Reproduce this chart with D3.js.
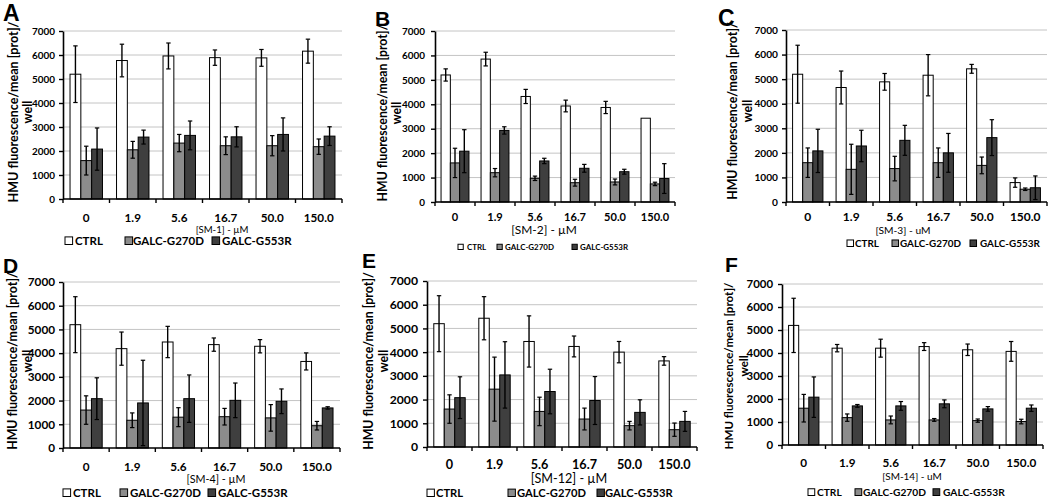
<!DOCTYPE html>
<html><head><meta charset="utf-8">
<script src="https://cdn.jsdelivr.net/npm/d3@7"></script>
<style>body{margin:0;background:#fff} svg{display:block}</style>
</head><body><svg id="c" width="1050" height="501"></svg>
<script>
// ---------- data ----------
const categories = ["0","1.9","5.6","16.7","50.0","150.0"];
const seriesNames = ["CTRL","GALC-G270D","GALC-G553R"];
const yTicks = [0,1000,2000,3000,4000,5000,6000,7000];
const panelLetters = ["A","B","C","D","E","F"];
const xTitles = ["[SM-1] - µM","[SM-2] - µM","[SM-3] - uM","[SM-4] - µM","[SM-12] - µM","[SM-14] - uM"];
const yTitleLines = ["HMU fluorescence/mean [prot]/","well"];

// means: [CTRL, GALC-G270D, GALC-G553R] per concentration
const sm1Mean = [[5200,5770,5960,5890,5880,6160],[1600,2050,2330,2220,2220,2180],[2080,2580,2650,2590,2690,2620]];
const sm1Err  = [[1180,680,540,320,350,500],[600,350,360,370,420,320],[880,290,600,420,690,390]];
const sm2Mean = [[5200,5850,4320,3930,3870,3430],[1600,1200,970,790,820,740],[2080,2930,1680,1380,1240,960]];
const sm2Err  = [[250,280,290,240,250,0],[600,170,90,140,120,70],[880,150,110,160,100,610]];
const sm3Mean = [[5200,4660,4890,5160,5420,790],[1600,1330,1360,1600,1490,520],[2080,2280,2510,2000,2620,580]];
const sm3Err  = [[1180,670,340,840,180,190],[600,1020,500,600,340,50],[880,640,610,790,730,480]];
const sm4Mean = [[5200,4190,4470,4360,4290,3650],[1600,1170,1300,1320,1270,940],[2080,1900,2080,2010,1970,1690]];
const sm4Err  = [[1180,700,660,280,280,360],[600,310,400,350,560,180],[880,1800,1000,730,520,50]];
const sm12Mean = [[5200,5430,4450,4240,4000,3630],[1600,2440,1500,1180,900,730],[2080,3040,2340,1960,1460,1080]];
const sm12Err  = [[1180,910,1080,440,450,180],[600,1350,600,460,180,280],[880,1400,940,1010,530,420]];
const sm14Mean = [[5200,4210,4210,4280,4140,4070],[1600,1190,1090,1090,1060,1020],[2080,1700,1700,1790,1570,1600]];
const sm14Err  = [[1180,160,390,170,250,430],[600,160,170,60,70,100],[880,60,190,170,100,140]];

const panelMeans = [sm1Mean, sm2Mean, sm3Mean, sm4Mean, sm12Mean, sm14Mean];
const panelErrs  = [sm1Err, sm2Err, sm3Err, sm4Err, sm12Err, sm14Err];

// ---------- layout (positions / sizes only) ----------
const layout = [
  {x0:63, x1:342, y0:199, y1:31, tickR:55, tickW:21.7, xlabB:222, xlabW:28.3, tcx:222, tB:233, tF:0.82,
   legB:245, sq:[65,125,212], tx:[75,133,222], legW:71, yl1:13, yl2:27, ycy:112, ylen:181, lx:3, lB:21, lS:23},
  {x0:435, x1:675, y0:202, y1:31, tickR:425, tickW:21.7, xlabB:221, xlabW:26.7, tcx:544, tB:234, tF:1.08,
   legB:250, sq:[458,497,572], tx:[467,505,580], legW:49, yl1:382, yl2:396, ycy:113, ylen:177, lx:375, lB:26, lS:21},
  {x0:786, x1:1047, y0:202, y1:30, tickR:778, tickW:22.3, xlabB:221, xlabW:29, tcx:903, tB:234, tF:0.85,
   legB:247, sq:[847,892,970], tx:[855,900,980], legW:61, yl1:732, yl2:747, ycy:111, ylen:178, lx:718, lB:26, lS:23},
  {x0:63, x1:340, y0:448, y1:282, tickR:55, tickW:25.7, xlabB:471, xlabW:28.3, tcx:216, tB:483, tF:0.92,
   legB:497, sq:[63,120,208], tx:[73,130,218], legW:71, yl1:12, yl2:27, ycy:361, ylen:178, lx:3, lB:273, lS:21},
  {x0:427, x1:697, y0:447, y1:281, tickR:418, tickW:26.7, xlabB:469, xlabW:30.5, tcx:569, tB:483, tF:1.0,
   legB:497, sq:[427,508,597], tx:[436,517,605], legW:69, yl1:368, yl2:383, ycy:361, ylen:178, lx:362, lB:268, lS:21},
  {x0:782, x1:1043, y0:445, y1:284, tickR:773, tickW:25, xlabB:467, xlabW:28.3, tcx:912, tB:480, tF:0.85,
   legB:496, sq:[808,855,933], tx:[817,863,943], legW:63, yl1:728, yl2:743, ycy:366, ylen:167, lx:725, lB:272, lS:21}
];

const FONT = "Lato, 'Open Sans', sans-serif";
const fills = ["#ffffff","#8c8c8c","#3f3f3f"];
const svg = d3.select("#c");
const BOOST = 1.06;

function fitSize(sel, target){
  const w = sel.node().getComputedTextLength();
  const fs = parseFloat(sel.attr("font-size"));
  return fs * target / w;
}

panelMeans.forEach((means, pi) => {
  const L = layout[pi];
  const errs = panelErrs[pi];
  const g = svg.append("g");
  const y = d3.scaleLinear().domain([0,7000]).range([L.y0, L.y1]);
  const x = d3.scaleBand().domain(categories).range([L.x0, L.x1]);
  const xi = d3.scaleBand().domain(seriesNames).range([0, x.bandwidth()]).paddingOuter(0.65);

  // gridlines
  g.selectAll("line.grid").data(yTicks.filter(t => t > 0)).join("line")
    .attr("x1", L.x0).attr("x2", L.x1).attr("y1", d => y(d)).attr("y2", d => y(d))
    .attr("stroke", "#c4c4c4").attr("stroke-width", 1);

  // bars
  const rows = [];
  categories.forEach((c, ci) => seriesNames.forEach((s, si) => rows.push({c, s, si, v: means[si][ci], e: errs[si][ci]})));
  g.selectAll("rect.bar").data(rows).join("rect")
    .attr("x", d => x(d.c) + xi(d.s))
    .attr("width", xi.bandwidth())
    .attr("y", d => y(d.v))
    .attr("height", d => y(0) - y(d.v))
    .attr("fill", d => fills[d.si]).attr("stroke", "#000").attr("stroke-width", 1);

  // error bars
  const cx = d => x(d.c) + xi(d.s) + xi.bandwidth()/2;
  const eb = g.selectAll("g.err").data(rows.filter(d => d.e > 0)).join("g");
  eb.append("line")
    .attr("x1", cx).attr("x2", cx)
    .attr("y1", d => y(d.v - d.e)).attr("y2", d => y(d.v + d.e))
    .attr("stroke", "#000").attr("stroke-width", 1.4);
  [1, -1].forEach(sgn => eb.append("line")
    .attr("x1", d => cx(d) - 2.2).attr("x2", d => cx(d) + 2.2)
    .attr("y1", d => y(d.v + sgn*d.e)).attr("y2", d => y(d.v + sgn*d.e))
    .attr("stroke", "#000").attr("stroke-width", 1.2));

  // y axis
  const yAx = g.append("g").attr("transform", `translate(${L.x0},0)`)
    .call(d3.axisLeft(y).tickValues(yTicks).tickFormat(d3.format("d")).tickSize(4).tickSizeOuter(0).tickPadding(L.x0 - L.tickR - 4));
  yAx.select(".domain").attr("stroke", "#000").attr("stroke-width", 1.6);
  yAx.selectAll(".tick line").attr("stroke", "#000").attr("stroke-width", 1.4);
  const ytx = yAx.selectAll(".tick text").attr("font-family", FONT).attr("font-weight", 700)
    .attr("font-size", 10).attr("fill", "#000");
  const yfs = fitSize(yAx.selectAll(".tick text").filter(d => d === 7000), L.tickW) * BOOST;
  ytx.attr("font-size", yfs);

  // x axis
  g.append("line").attr("x1", L.x0).attr("x2", L.x1).attr("y1", y(0)).attr("y2", y(0))
    .attr("stroke", "#000").attr("stroke-width", 1.6);
  g.selectAll("line.xt").data(categories.concat(["__end"])).join("line")
    .attr("x1", d => d === "__end" ? L.x1 : x(d)).attr("x2", d => d === "__end" ? L.x1 : x(d))
    .attr("y1", y(0)).attr("y2", y(0) + 4).attr("stroke", "#000").attr("stroke-width", 1.4);
  const xl = g.selectAll("text.xl").data(categories).join("text")
    .attr("x", d => x(d) + x.bandwidth()/2).attr("y", L.xlabB)
    .attr("text-anchor", "middle").attr("font-family", FONT).attr("font-weight", 700)
    .attr("font-size", 10).text(d => d);
  const xfs = fitSize(xl.filter(d => d === "150.0"), L.xlabW) * BOOST;
  xl.attr("font-size", xfs);

  // x title
  g.append("text").attr("x", L.tcx).attr("y", L.tB).attr("text-anchor", "middle")
    .attr("font-family", FONT).attr("font-size", xfs * L.tF).text(xTitles[pi]);

  // y title
  const yt = g.append("text").attr("transform", `translate(${L.yl1},${L.ycy}) rotate(-90)`)
    .attr("text-anchor", "middle").attr("dominant-baseline", "central")
    .attr("font-family", FONT).attr("font-weight", 700).attr("font-size", 10).text(yTitleLines[0]);
  const yts = fitSize(yt, L.ylen);
  yt.attr("font-size", yts);
  g.append("text").attr("transform", `translate(${L.yl2},${L.ycy}) rotate(-90)`)
    .attr("text-anchor", "middle").attr("dominant-baseline", "central")
    .attr("font-family", FONT).attr("font-weight", 700).attr("font-size", yts).text(yTitleLines[1]);

  // legend
  const lt = g.selectAll("text.leg").data(seriesNames).join("text")
    .attr("x", (d, i) => L.tx[i]).attr("y", L.legB)
    .attr("font-family", FONT).attr("font-weight", 700).attr("font-size", 10).text(d => d);
  const lfs = fitSize(lt.filter(d => d === "GALC-G270D"), L.legW);
  lt.attr("font-size", lfs);
  const sqs = lfs * 0.66;
  g.selectAll("rect.leg").data(seriesNames).join("rect")
    .attr("x", (d, i) => L.sq[i]).attr("y", L.legB - sqs - 0.5)
    .attr("width", sqs).attr("height", sqs)
    .attr("fill", (d, i) => fills[i]).attr("stroke", "#000").attr("stroke-width", 1);

  // panel letter
  g.append("text").attr("x", L.lx).attr("y", L.lB)
    .attr("font-family", "'Liberation Sans', Arial, sans-serif").attr("font-weight", 700)
    .attr("font-size", L.lS).text(panelLetters[pi]);
});
</script></body></html>
